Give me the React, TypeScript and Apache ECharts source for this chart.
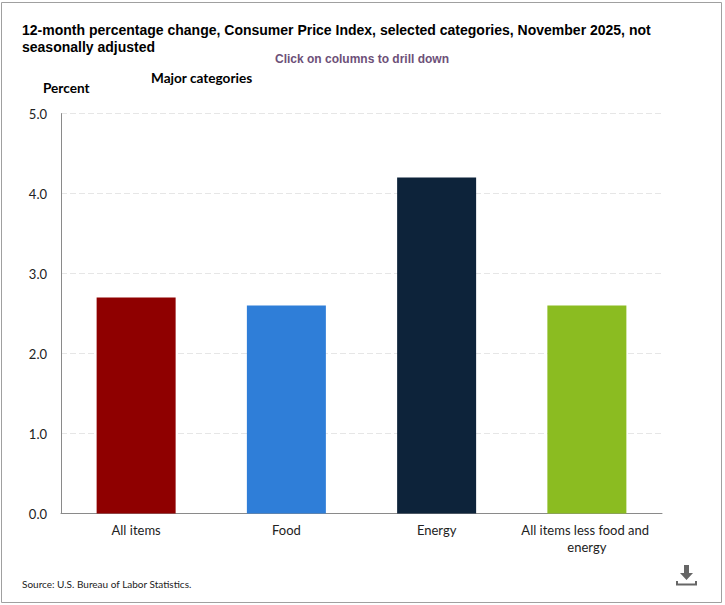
import React, { useEffect, useRef } from "react";
import * as echarts from "echarts";

const categories = ["All items", "Food", "Energy", "All items less food and energy"];
const values = [2.7, 2.6, 4.2, 2.6];
const barColors = ["#8f0000", "#2f7ed8", "#0d233a", "#8bbc21"];
const titleLines = "12-month percentage change, Consumer Price Index, selected categories, November 2025, not\nseasonally adjusted";
const subtitleText = "Click on columns to drill down";
const drillText = "Major categories";
const yAxisName = "Percent";
const sourceText = "Source: U.S. Bureau of Labor Statistics.";

const bodyFont = "Lato";

export default function App() {
  const ref = useRef<HTMLDivElement>(null);
  useEffect(() => {
    const chart = echarts.init(ref.current!, null, { renderer: "svg" });
    chart.setOption({
      animation: false,
      backgroundColor: "#ffffff",
      grid: { left: 61, right: 63, top: 113.6, bottom: 91.4, containLabel: false },
      xAxis: {
        type: "category",
        data: categories,
        axisLine: { show: true, lineStyle: { color: "#8a8a8a", width: 1 } },
        axisTick: { show: false },
        axisLabel: {
          color: "#222222",
          fontFamily: bodyFont,
          fontSize: 13,
          lineHeight: 17,
          margin: 8,
          width: 135,
          overflow: "break",
          interval: 0,
        },
      },
      yAxis: {
        type: "value",
        min: 0,
        max: 5,
        interval: 1,
        axisLine: { show: true, lineStyle: { color: "#8a8a8a", width: 1 } },
        axisTick: { show: false },
        axisLabel: {
          color: "#222222",
          fontFamily: bodyFont,
          fontSize: 13,
          margin: 14,
          formatter: (v: number) => v.toFixed(1),
        },
        splitLine: { show: true, lineStyle: { color: "#e6e6e6", type: [6, 3], width: 1 } },
      },
      series: [
        {
          type: "bar",
          barWidth: 79,
          data: values.map((value, i) => ({ value, itemStyle: { color: barColors[i] } })),
        },
      ],
      graphic: [
        {
          type: "rect",
          silent: true,
          shape: { x: 1.5, y: 2.5, width: 720, height: 600 },
          style: { fill: "none", stroke: "#a0a0a0", lineWidth: 1 },
        },
        {
          type: "text",
          x: 22,
          y: 21,
          style: {
            text: titleLines,
            fill: "#000000",
            font: "bold 14px 'Liberation Sans'",
            lineHeight: 17,
          },
        },
        {
          type: "text",
          x: 362,
          y: 53,
          style: {
            text: subtitleText,
            fill: "#6d5078",
            font: "bold 12px 'Liberation Sans'",
            align: "center",
          },
        },
        {
          type: "text",
          x: 151,
          y: 71,
          style: { text: drillText, fill: "#000000", font: `bold 13.6px ${bodyFont}` },
        },
        {
          type: "text",
          x: 43,
          y: 81,
          style: { text: yAxisName, fill: "#000000", font: `bold 13.6px ${bodyFont}` },
        },
        {
          type: "text",
          x: 22,
          y: 579,
          style: { text: sourceText, fill: "#222222", font: `10px ${bodyFont}` },
        },
        {
          type: "polygon",
          silent: true,
          shape: {
            points: [
              [684, 565],
              [689, 565],
              [689, 573],
              [693, 573],
              [686.5, 580],
              [680, 573],
              [684, 573],
            ],
          },
          style: { fill: "#666666" },
        },
        {
          type: "polyline",
          silent: true,
          shape: {
            points: [
              [677, 581],
              [677, 584.5],
              [696, 584.5],
              [696, 581],
            ],
          },
          style: { stroke: "#666666", lineWidth: 2, fill: "none" },
        },
      ],
    });
    return () => chart.dispose();
  }, []);
  return (
    <div
      ref={ref}
      style={{ position: "absolute", left: 0, top: 0, width: 725, height: 605 }}
    />
  );
}
